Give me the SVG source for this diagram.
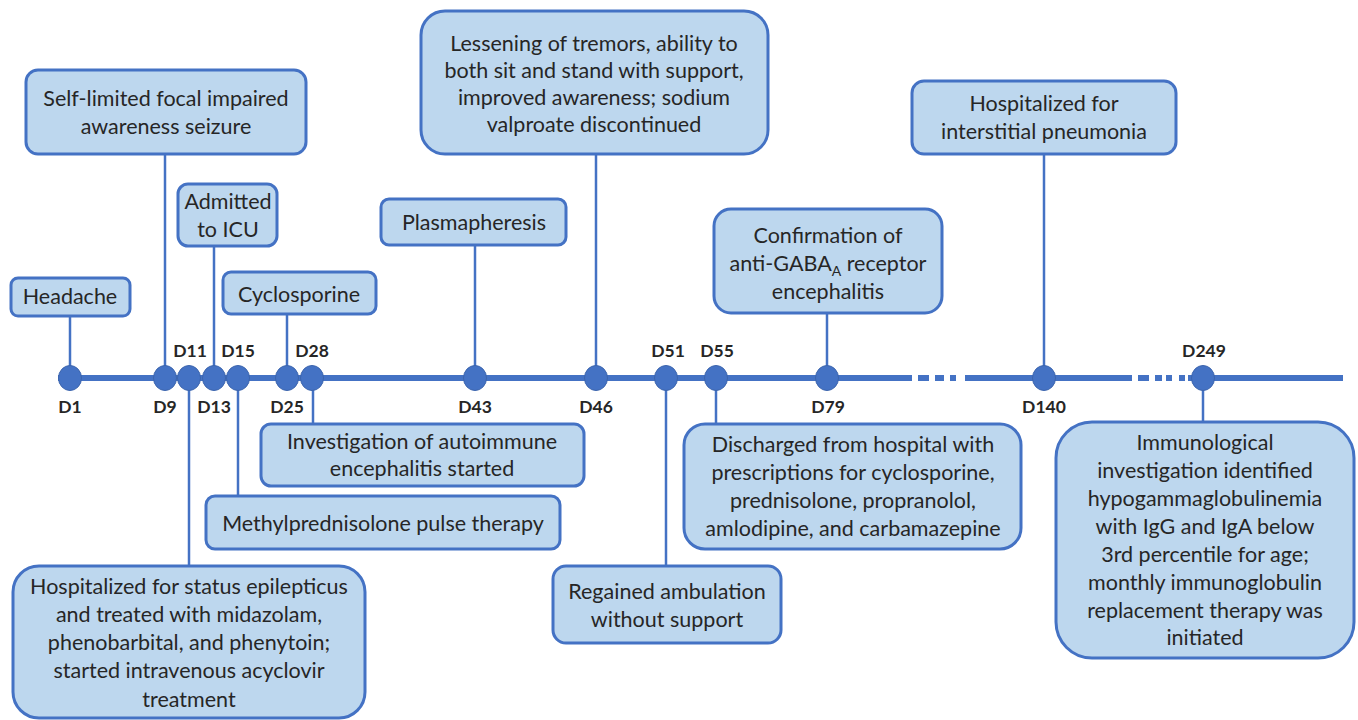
<svg xmlns="http://www.w3.org/2000/svg" width="1358" height="720" viewBox="0 0 1358 720">
<style>
.box{fill:#BDD7EE;stroke:#4472C4;stroke-width:3}
.t{font-family:Lato,"Liberation Sans",sans-serif;font-size:21.5px;fill:#262626;text-anchor:middle}
.lbl{font-family:Lato,"Liberation Sans",sans-serif;font-size:17.5px;font-weight:bold;fill:#262626;text-anchor:middle}
.con{stroke:#4472C4;stroke-width:2.5;fill:none}
.axis{stroke:#4472C4;stroke-width:6;fill:none}
.dot{fill:#4472C4;stroke:#3B64AD;stroke-width:1}
</style>
<rect width="1358" height="720" fill="#FFFFFF"/>
<g id="timeline">
<line class="axis" x1="58" y1="378" x2="912" y2="378"/>
<line class="axis" x1="918" y1="378" x2="929" y2="378"/>
<line class="axis" x1="935" y1="378" x2="944" y2="378"/>
<line class="axis" x1="950" y1="378" x2="956" y2="378"/>
<line class="axis" x1="965" y1="378" x2="1132" y2="378"/>
<line class="axis" x1="1138" y1="378" x2="1149" y2="378"/>
<line class="axis" x1="1155" y1="378" x2="1162" y2="378"/>
<line class="axis" x1="1166" y1="378" x2="1172" y2="378"/>
<line class="axis" x1="1179" y1="378" x2="1185" y2="378"/>
<line class="axis" x1="1188" y1="378" x2="1343" y2="378"/>
</g>
<g id="connectors">
<line class="con" x1="70" y1="316" x2="70" y2="378"/>
<line class="con" x1="165" y1="154" x2="165" y2="378"/>
<line class="con" x1="214" y1="246" x2="214" y2="378"/>
<line class="con" x1="287" y1="314" x2="287" y2="378"/>
<line class="con" x1="475" y1="245" x2="475" y2="378"/>
<line class="con" x1="596" y1="154" x2="596" y2="378"/>
<line class="con" x1="827" y1="313" x2="827" y2="378"/>
<line class="con" x1="1044" y1="154" x2="1044" y2="378"/>
<line class="con" x1="313" y1="378" x2="313" y2="424"/>
<line class="con" x1="238" y1="378" x2="238" y2="496"/>
<line class="con" x1="189" y1="378" x2="189" y2="566"/>
<line class="con" x1="666" y1="378" x2="666" y2="566"/>
<line class="con" x1="716" y1="378" x2="716" y2="424"/>
<line class="con" x1="1203" y1="378" x2="1203" y2="422"/>
</g>
<g id="points">
<ellipse class="dot" cx="70" cy="378" rx="11.5" ry="12.5"/>
<ellipse class="dot" cx="165" cy="378" rx="11.5" ry="12.5"/>
<ellipse class="dot" cx="189" cy="378" rx="11.5" ry="12.5"/>
<ellipse class="dot" cx="214" cy="378" rx="11.5" ry="12.5"/>
<ellipse class="dot" cx="238" cy="378" rx="11.5" ry="12.5"/>
<ellipse class="dot" cx="287" cy="378" rx="11.5" ry="12.5"/>
<ellipse class="dot" cx="312" cy="378" rx="11.5" ry="12.5"/>
<ellipse class="dot" cx="475" cy="378" rx="11.5" ry="12.5"/>
<ellipse class="dot" cx="596" cy="378" rx="11.5" ry="12.5"/>
<ellipse class="dot" cx="666" cy="378" rx="11.5" ry="12.5"/>
<ellipse class="dot" cx="716" cy="378" rx="11.5" ry="12.5"/>
<ellipse class="dot" cx="827" cy="378" rx="11.5" ry="12.5"/>
<ellipse class="dot" cx="1044" cy="378" rx="11.5" ry="12.5"/>
<ellipse class="dot" cx="1203" cy="378" rx="11.5" ry="12.5"/>
</g>
<g id="day-labels">
<text class="lbl" x="70" y="413">D1</text>
<text class="lbl" x="165" y="413">D9</text>
<text class="lbl" x="190" y="357">D11</text>
<text class="lbl" x="214" y="413">D13</text>
<text class="lbl" x="238" y="357">D15</text>
<text class="lbl" x="287" y="413">D25</text>
<text class="lbl" x="312" y="357">D28</text>
<text class="lbl" x="475" y="413">D43</text>
<text class="lbl" x="596" y="413">D46</text>
<text class="lbl" x="668" y="357">D51</text>
<text class="lbl" x="717" y="357">D55</text>
<text class="lbl" x="828" y="413">D79</text>
<text class="lbl" x="1044" y="413">D140</text>
<text class="lbl" x="1204" y="357">D249</text>
</g>
<g id="n-headache">
<rect class="box" x="11" y="278" width="119" height="38" rx="7"/>
<text class="t" x="70" y="304">Headache</text>
</g>
<g id="n-seizure">
<rect class="box" x="26" y="70" width="280" height="84" rx="12"/>
<text class="t" x="166" y="106">Self-limited focal impaired</text>
<text class="t" x="166" y="134">awareness seizure</text>
</g>
<g id="n-icu">
<rect class="box" x="178" y="184" width="99" height="62" rx="10"/>
<text class="t" x="228" y="209">Admitted</text>
<text class="t" x="228" y="237">to ICU</text>
</g>
<g id="n-cyclosporine">
<rect class="box" x="223" y="272" width="153" height="42" rx="8"/>
<text class="t" x="299" y="302">Cyclosporine</text>
</g>
<g id="n-plasma">
<rect class="box" x="381" y="199" width="185" height="46" rx="8"/>
<text class="t" x="474" y="230">Plasmapheresis</text>
</g>
<g id="n-lessening">
<rect class="box" x="421" y="11" width="347" height="143" rx="24"/>
<text class="t" x="594" y="51">Lessening of tremors, ability to</text>
<text class="t" x="594" y="78">both sit and stand with support,</text>
<text class="t" x="594" y="105">improved awareness; sodium</text>
<text class="t" x="594" y="132">valproate discontinued</text>
</g>
<g id="n-confirmation">
<rect class="box" x="714" y="209" width="228" height="104" rx="17"/>
<text class="t" x="828" y="243">Confirmation of</text>
<text class="t" x="828" y="271">anti-GABA<tspan font-size="14" dy="5">A</tspan><tspan dy="-5"> receptor</tspan></text>
<text class="t" x="828" y="299">encephalitis</text>
</g>
<g id="n-pneumonia">
<rect class="box" x="912" y="81" width="264" height="73" rx="12"/>
<text class="t" x="1044" y="111">Hospitalized for</text>
<text class="t" x="1044" y="139">interstitial pneumonia</text>
</g>
<g id="n-autoimmune">
<rect class="box" x="261" y="424" width="323" height="62" rx="10"/>
<text class="t" x="422" y="449">Investigation of autoimmune</text>
<text class="t" x="422" y="476">encephalitis started</text>
</g>
<g id="n-methyl">
<rect class="box" x="206" y="496" width="354" height="53" rx="9"/>
<text class="t" x="383" y="531">Methylprednisolone pulse therapy</text>
</g>
<g id="n-status">
<rect class="box" x="13" y="566" width="352" height="152" rx="26"/>
<text class="t" x="189" y="594">Hospitalized for status epilepticus</text>
<text class="t" x="189" y="622">and treated with midazolam,</text>
<text class="t" x="189" y="650">phenobarbital, and phenytoin;</text>
<text class="t" x="189" y="678">started intravenous acyclovir</text>
<text class="t" x="189" y="707">treatment</text>
</g>
<g id="n-ambulation">
<rect class="box" x="553" y="566" width="228" height="77" rx="13"/>
<text class="t" x="667" y="599">Regained ambulation</text>
<text class="t" x="667" y="627">without support</text>
</g>
<g id="n-discharged">
<rect class="box" x="684" y="424" width="337" height="125" rx="21"/>
<text class="t" x="853" y="452">Discharged from hospital with</text>
<text class="t" x="853" y="480">prescriptions for cyclosporine,</text>
<text class="t" x="853" y="508">prednisolone, propranolol,</text>
<text class="t" x="853" y="536">amlodipine, and carbamazepine</text>
</g>
<g id="n-immuno">
<rect class="box" x="1056" y="422" width="298" height="236" rx="36"/>
<text class="t" x="1205" y="450">Immunological</text>
<text class="t" x="1205" y="478">investigation identified</text>
<text class="t" x="1205" y="506">hypogammaglobulinemia</text>
<text class="t" x="1205" y="534">with IgG and IgA below</text>
<text class="t" x="1205" y="562">3rd percentile for age;</text>
<text class="t" x="1205" y="590">monthly immunoglobulin</text>
<text class="t" x="1205" y="618">replacement therapy was</text>
<text class="t" x="1205" y="645">initiated</text>
</g>
</svg>
